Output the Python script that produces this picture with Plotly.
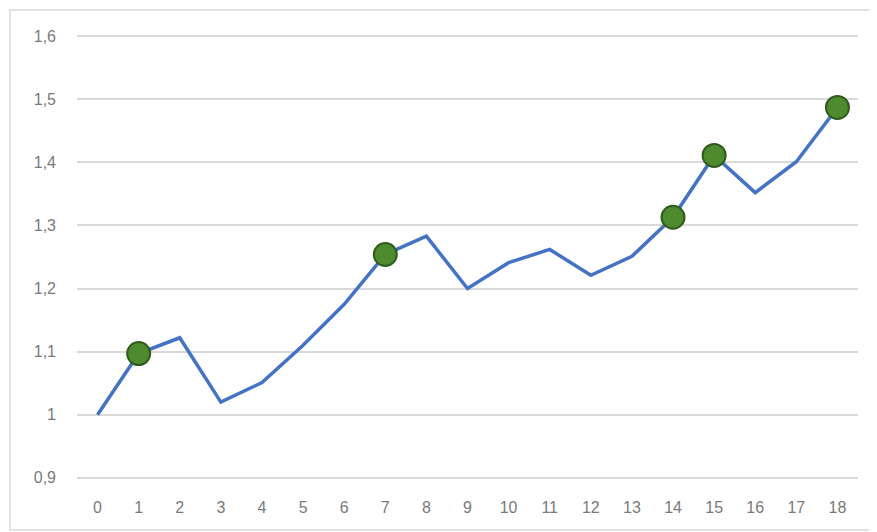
import plotly.graph_objects as go

categories = list(range(19))
values = [1.00, 1.097, 1.122, 1.02, 1.051, 1.11, 1.175, 1.254, 1.283, 1.20,
          1.241, 1.262, 1.221, 1.251, 1.313, 1.411, 1.352, 1.401, 1.487]
highlight = [1, 7, 14, 15, 18]
y_ticks = [0.9, 1.0, 1.1, 1.2, 1.3, 1.4, 1.5, 1.6]
y_ticktext = ["0,9", "1", "1,1", "1,2", "1,3", "1,4", "1,5", "1,6"]

# page body has an 8px margin; compensate
W, H = 868, 523
ml, mr, mt, mb = 69, 18, 25, 50
pw, ph = W - ml - mr, H - mt - mb

fig = go.Figure()
fig.add_trace(go.Scatter(
    x=categories, y=values, mode="lines",
    line=dict(color="#4472C4", width=3.5), hoverinfo="skip", showlegend=False))
fig.add_trace(go.Scatter(
    x=[categories[i] for i in highlight], y=[values[i] for i in highlight],
    mode="markers",
    marker=dict(size=23, color="#4E8A2E", line=dict(color="#2F5C1E", width=2)),
    showlegend=False))

def px(x):
    return (x - ml) / pw

def py(y):
    return 1 - (y - mt) / ph

fig.add_shape(type="rect", xref="paper", yref="paper",
              x0=px(2), x1=px(867), y0=py(522), y1=py(2),
              line=dict(color="#d9d9d9", width=1.5), layer="below")

fig.update_layout(
    width=W, height=H, margin=dict(l=ml, r=mr, t=mt, b=mb),
    plot_bgcolor="white", paper_bgcolor="white",
    font=dict(family="Liberation Sans", size=16, color="#7a7a7a"),
    xaxis=dict(range=[-0.5, 18.5], tickmode="array", tickvals=categories,
               ticktext=[str(c) for c in categories], showgrid=False,
               zeroline=False, showline=False, ticks="",
               ticklabelstandoff=15),
    yaxis=dict(range=[0.895, 1.605], tickmode="array", tickvals=y_ticks,
               ticktext=y_ticktext, showgrid=True, gridcolor="#d9d9d9",
               gridwidth=1.5, zeroline=False, showline=False, ticks="",
               ticklabelstandoff=20),
)
fig.write_html("out.html")
